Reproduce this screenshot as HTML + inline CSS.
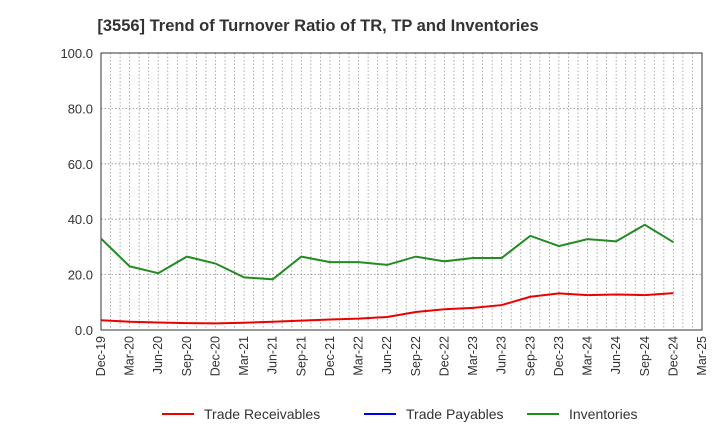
<!DOCTYPE html>
<html><head><meta charset="utf-8"><style>
body{margin:0;background:#fff;font-family:"Liberation Sans",sans-serif;}
svg text{font-family:"Liberation Sans",sans-serif;}
</style></head><body>
<svg id="chart" width="720" height="440" xmlns="http://www.w3.org/2000/svg">
<text x="318" y="31" text-anchor="middle" font-size="16.5" font-weight="bold" fill="#333">[3556]  Trend of Turnover Ratio of TR, TP and Inventories</text>
<g id="grid"></g><g id="axes"></g><g id="series"></g>
<g>
<line x1="162" y1="414" x2="194" y2="414" stroke="#e00" stroke-width="2"/>
<text x="204" y="419" font-size="14" fill="#333">Trade Receivables</text>
<line x1="364" y1="414" x2="396" y2="414" stroke="#00e" stroke-width="2"/>
<text x="406" y="419" font-size="14" fill="#333">Trade Payables</text>
<line x1="527" y1="414" x2="559" y2="414" stroke="#228b22" stroke-width="2"/>
<text x="569" y="419" font-size="14" fill="#333">Inventories</text>
</g>
</svg>
<script>
const xLabels=["Dec-19","Mar-20","Jun-20","Sep-20","Dec-20","Mar-21","Jun-21","Sep-21","Dec-21","Mar-22","Jun-22","Sep-22","Dec-22","Mar-23","Jun-23","Sep-23","Dec-23","Mar-24","Jun-24","Sep-24","Dec-24","Mar-25"];
const yTicks=[0,20,40,60,80,100];
const receivables=[3.5,3.0,2.7,2.5,2.4,2.6,3.0,3.4,3.8,4.1,4.7,6.5,7.5,8.0,9.0,12.0,13.2,12.6,12.8,12.6,13.3];
const payables=[];
const inventories=[33,23,20.5,26.5,24,19,18.3,26.5,24.5,24.5,23.5,26.5,24.8,26,26,34,30.3,32.8,32,38,31.7];
const L=101,R=702,T=53,B=330,months=63;
const NS="http://www.w3.org/2000/svg";
function X(q){return L+(q*3)*(R-L)/months;}
function XM(m){return L+m*(R-L)/months;}
function Y(v){return B-(v/100)*(B-T);}
function mk(tag,attrs,parent){const e=document.createElementNS(NS,tag);for(const k in attrs)e.setAttribute(k,attrs[k]);parent.appendChild(e);return e;}
const grid=document.getElementById('grid'),axes=document.getElementById('axes'),series=document.getElementById('series');
for(let m=1;m<months;m++){const l=mk('line',{x1:XM(m),x2:XM(m),y1:T,y2:B,stroke:'#999','stroke-width':0.8,'stroke-dasharray':'1.5,2'},grid);

}
yTicks.forEach(v=>{if(v>0&&v<100){const l=mk('line',{x1:L,x2:R,y1:Y(v),y2:Y(v),stroke:'#888','stroke-width':0.8,'stroke-dasharray':'1.5,2'},grid);

}
const t=mk('text',{x:L-8,y:Y(v)+5,'text-anchor':'end','font-size':13,fill:'#333'},axes);t.textContent=v.toFixed(1);

});
const fr=mk('rect',{x:L,y:T,width:R-L,height:B-T,fill:'none',stroke:'#333','stroke-width':1},axes);


xLabels.forEach((s,i)=>{const x=X(i);const t=mk('text',{x:x+4,y:B+6,'text-anchor':'end','font-size':12.5,fill:'#333',transform:`rotate(-90 ${x+4} ${B+6})`},axes);t.textContent=s;

});
function line(data,color,name){if(!data.length)return;const p=mk('polyline',{points:data.map((v,i)=>X(i)+','+Y(v)).join(' '),fill:'none',stroke:color,'stroke-width':2},series);

}
line(receivables,'#e00','trade-receivables-line');
line(payables,'#00e','trade-payables-line');
line(inventories,'#228b22','inventories-line');
</script>
</body></html>
